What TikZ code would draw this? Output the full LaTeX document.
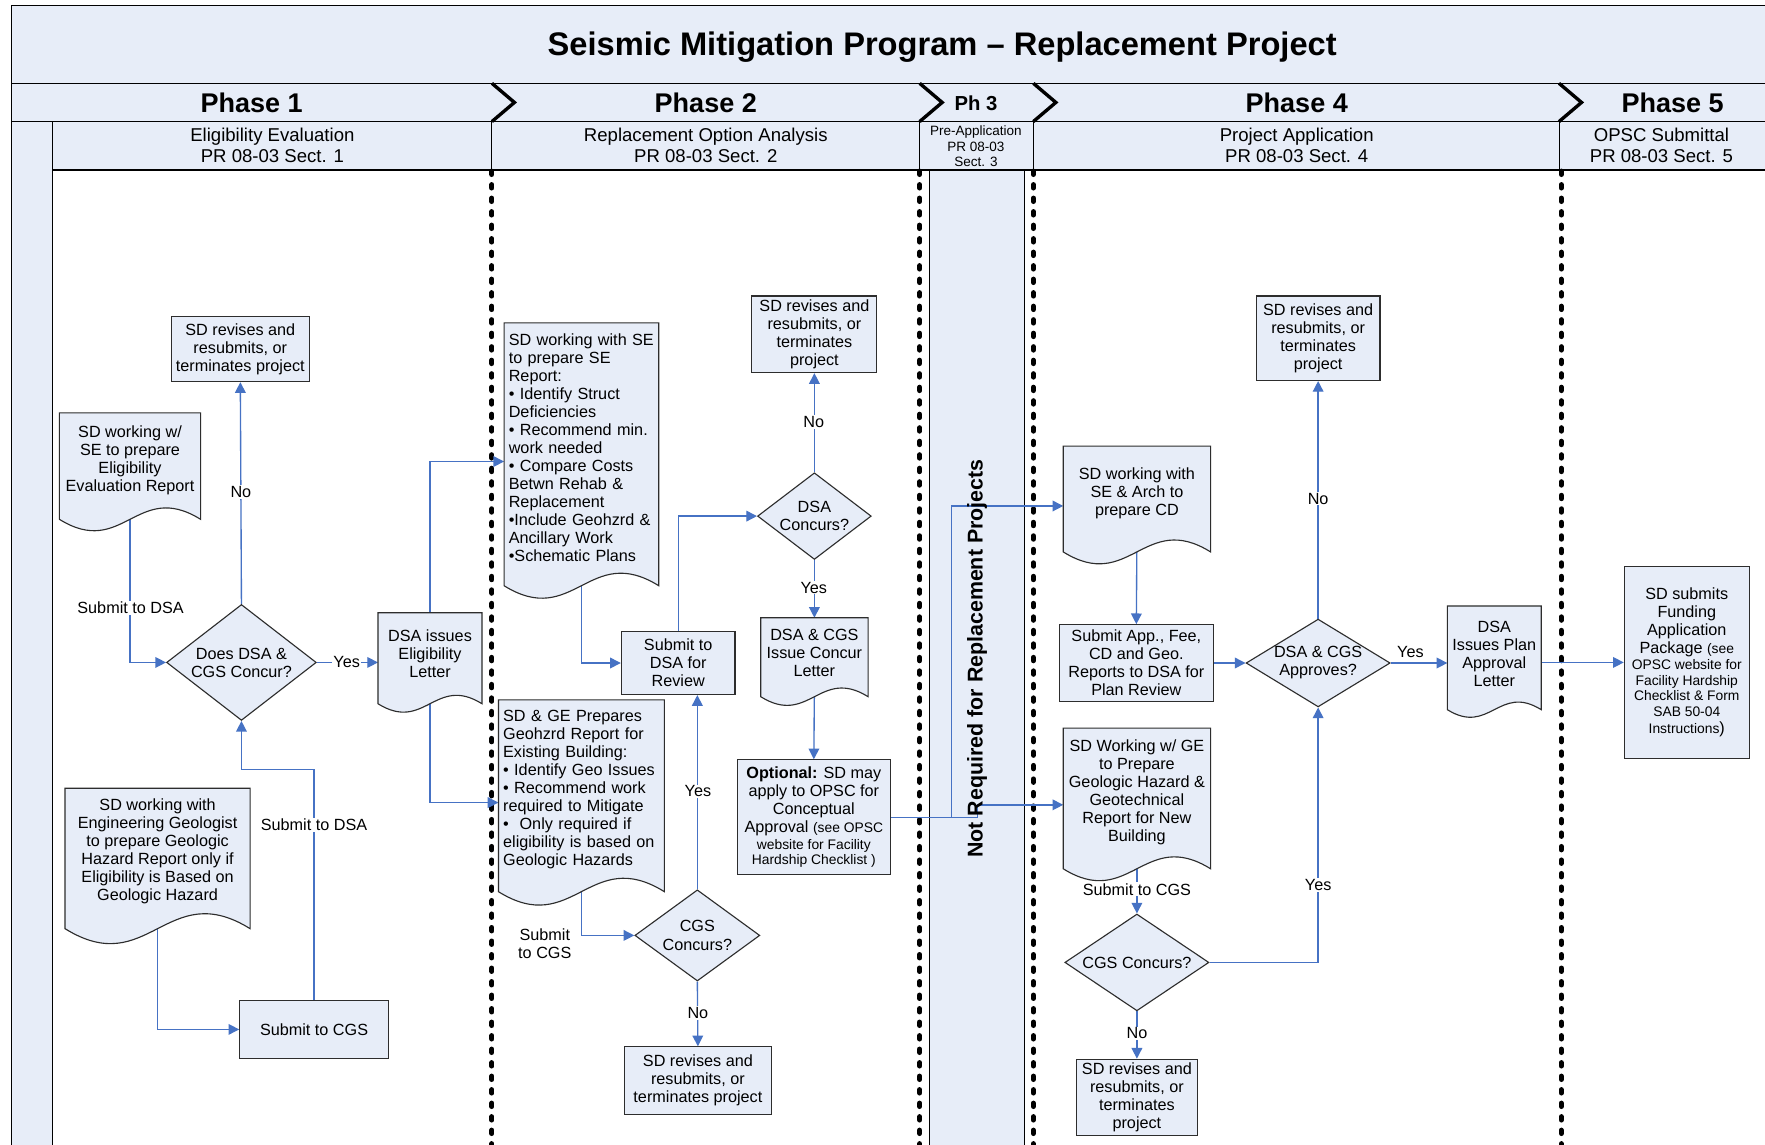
\documentclass[tikz,border=0pt]{standalone}
\usepackage{fontspec}
\setmainfont{Liberation Sans}
\usetikzlibrary{shapes.geometric,arrows.meta,calc}
\definecolor{boxfill}{RGB}{231,237,248}
\definecolor{boxline}{RGB}{45,45,45}
\definecolor{cblue}{RGB}{70,114,196}
\pgfdeclarelayer{bg}
\pgfdeclarelayer{conn}
\pgfdeclarelayer{docs}
\pgfsetlayers{bg,conn,docs,main}
\newcommand\bx{\fontsize{14.4}{16}\selectfont}
\newcommand\smf{\fontsize{12.3}{14}\selectfont}
\newcommand\wavedoc[1]{%
 \begin{pgfonlayer}{docs}
 \path[docshape] let \p1=(#1.south west), \p2=(#1.north east), \n1={\x2-\x1} in
 (\x1,\y2) -- (\x2,\y2) -- (\x2,{\y1-0.081*\n1})
 .. controls ({\x2-0.45*\n1},{\y1-0.081*\n1+0.28*\n1}) and ({\x1+0.45*\n1},{\y1-0.081*\n1-0.28*\n1}) ..
 (\x1,{\y1-0.081*\n1}) -- cycle;
 \end{pgfonlayer}}
\begin{document}
\begin{tikzpicture}[x=1pt,y=-1pt,
 box/.style={rectangle, draw=boxline, line width=1pt, fill=boxfill, font=\bx, align=center, inner sep=2pt},
 dia/.style={diamond, draw=boxline, line width=1pt, fill=boxfill, font=\bx, align=center, inner sep=0pt},
 docnode/.style={rectangle, font=\bx, align=center, inner xsep=4pt, inner ysep=0pt},
 docshape/.style={fill=boxfill, draw=boxline, line width=1pt},
 link/.style={draw=cblue, line width=1.2pt, -{Triangle[length=9.5pt,width=9.5pt]}},
 lab/.style={font=\bx, fill=white, inner sep=1pt},
 freelab/.style={font=\bx, inner sep=1pt, align=center},
 dotline/.style={line width=4.5pt, dash pattern=on 3pt off 9pt, line cap=round},
 chev/.style={line width=3pt, line join=miter},
 hdrframe/.style={draw=black, line width=1.2pt, fill=boxfill},
 hdr/.style={font=\fontsize{29}{34}\selectfont\bfseries},
 phase/.style={font=\fontsize{24}{28}\selectfont\bfseries},
 phsmall/.style={font=\fontsize{18}{21}\selectfont\bfseries},
 subh/.style={font=\fontsize{16.5}{19}\selectfont, align=center},
 subsmall/.style={font=\fontsize{12}{13.5}\selectfont, align=center}]
\useasboundingbox (0,0) rectangle (1568,1017);
\begin{pgfonlayer}{bg}
 \fill[white] (0,0) rectangle (1568,1017);
 \path[hdrframe] (10,5) rectangle (1600,74);
 \path[hdrframe] (10,74) rectangle (1600,108);
 \path[hdrframe, line width=1pt] (47,108) rectangle (1600,151);
 \path[hdrframe, line width=1pt] (10,108) rectangle (47,1040);
 \foreach \xx in {437,817,918,1385} {\draw[line width=0.8pt] (\xx,108) -- (\xx,151);}
 \path[hdrframe, line width=1pt] (826,151) rectangle (910,1040);
 \foreach \xx in {437,817,918,1387} {\draw[dotline] (\xx,152) -- (\xx,1030);}
 \foreach \xx in {437,817,918,1385} {\draw[chev] (\xx,74) -- (\xx+20,91) -- (\xx,108);}
\end{pgfonlayer}

% headers
\node[hdr] (title) at (837,41.5) {Seismic Mitigation Program – Replacement Project};
\node[phase] (ph1) at (223.5,91.5) {Phase 1};
\node[phase] (ph2) at (627,91.5) {Phase 2};
\node[phsmall] (ph3) at (867,91.5) {Ph 3};
\node[phase] (ph4) at (1152,91.5) {Phase 4};
\node[phase] (ph5) at (1486,91.5) {Phase 5};
\node[subh] (s1) at (242,129) {Eligibility Evaluation\\PR 08-03 Sect. 1};
\node[subh] (s2) at (627,129) {Replacement Option Analysis\\PR 08-03 Sect. 2};
\node[subsmall] (s3) at (867,130) {Pre-Application\\PR 08-03\\Sect. 3};
\node[subh] (s4) at (1152,129) {Project Application\\PR 08-03 Sect. 4};
\node[subh] (s5) at (1476,129) {OPSC Submittal\\PR 08-03 Sect. 5};
\node[font=\fontsize{19}{22}\selectfont\bfseries, rotate=90] (nr) at (868,585) {Not Required for Replacement Projects};

% Phase 1
\node[box, minimum width=123pt, minimum height=58pt] (p1rev) at (213.5,310) {SD revises and\\resubmits, or\\terminates project};
\node[docnode, minimum width=125pt, minimum height=84pt] (p1doc) at (115.5,409) {SD working w/\\SE to prepare\\Eligibility\\Evaluation Report};
\node[dia, aspect=1.29, minimum width=133pt, minimum height=103pt] (p1dia) at (214.5,588.5) {Does DSA \&\\CGS Concur?};
\node[docnode, minimum width=92pt, minimum height=73pt] (p1let) at (382,581) {DSA issues\\Eligibility\\Letter};
\node[docnode, minimum width=164pt, minimum height=111pt] (p1geo) at (140,756) {SD working with\\Engineering Geologist\\to prepare Geologic\\Hazard Report only if\\Eligibility is Based on\\Geologic Hazard};
\node[box, minimum width=132pt, minimum height=51pt] (p1cgs) at (279,914.5) {Submit to CGS};

% Phase 2
\node[docnode, align=left, text width=129pt, minimum height=222pt] (p2se) at (516.5,398) {SD working with SE\\to prepare SE\\Report:\\• Identify Struct\\Deficiencies\\• Recommend min.\\work needed\\• Compare Costs\\Betwn Rehab \&\\Replacement\\•Include Geohzrd \&\\Ancillary Work\\•Schematic Plans};
\node[box, minimum width=101pt, minimum height=56pt] (p2submit) at (602.5,589) {Submit to\\DSA for\\Review};
\node[docnode, align=left, text width=139pt, minimum height=158pt] (p2geo) at (516.5,701) {SD \& GE Prepares\\Geohzrd Report for\\Existing Building:\\• Identify Geo Issues\\• Recommend work\\required to Mitigate\\•\ \ Only required if\\eligibility is based on\\Geologic Hazards};
\node[dia, aspect=1.37, minimum width=111pt, minimum height=81pt] (p2cgs) at (619.5,831) {CGS\\Concurs?};
\node[box, minimum width=130pt, minimum height=60pt] (p2rev3) at (620,960) {SD revises and\\resubmits, or\\terminates project};
\node[dia, aspect=1.31, minimum width=101pt, minimum height=77pt] (p2dsa) at (723.5,458.5) {DSA\\Concurs?};
\node[box, minimum width=111pt, minimum height=68pt] (p2rev2) at (723.5,297) {SD revises and\\resubmits, or\\terminates\\project};
\node[docnode, minimum width=95pt, minimum height=62pt] (p2let) at (723.5,580) {DSA \& CGS\\Issue Concur\\Letter};
\node[box, minimum width=136pt, minimum height=102pt] (p2opt) at (723,726) {\textbf{Optional:} SD may\\apply to OPSC for\\Conceptual\\Approval {\smf(see OPSC}\\[-1pt]{\smf website for Facility}\\[-2pt]{\smf Hardship Checklist )}};

% Phase 4
\node[docnode, minimum width=130.5pt, minimum height=83pt] (p4cd) at (1010,438) {SD working with\\SE \& Arch to\\prepare CD};
\node[box, minimum width=137pt, minimum height=68pt] (p4sub) at (1009.5,589) {Submit App., Fee,\\CD and Geo.\\Reports to DSA for\\Plan Review};
\node[dia, aspect=1.64, minimum width=128pt, minimum height=78pt] (p4dia) at (1171,589) {DSA \& CGS\\Approves?};
\node[box, minimum width=110pt, minimum height=75pt] (p4rev1) at (1171,300.5) {SD revises and\\resubmits, or\\terminates\\project};
\node[docnode, minimum width=83pt, minimum height=85pt] (p4let) at (1327.5,581) {DSA\\Issues Plan\\Approval\\Letter};
\node[docnode, minimum width=130.5pt, minimum height=114pt] (p4geo) at (1010,704) {SD Working w/ GE\\to Prepare\\Geologic Hazard \&\\Geotechnical\\Report for New\\Building};
\node[dia, aspect=1.49, minimum width=128pt, minimum height=86pt] (p4cgs) at (1010,855) {CGS Concurs?};
\node[box, minimum width=108pt, minimum height=68pt] (p4rev2) at (1010,975) {SD revises and\\resubmits, or\\terminates\\project};

% Phase 5
\node[box, minimum width=111pt, minimum height=171pt] (p5) at (1498.5,588.5) {SD submits\\Funding\\Application\\Package {\smf(see}\\[-2pt]{\smf OPSC website for}\\[-2pt]{\smf Facility Hardship}\\[-2pt]{\smf Checklist \& Form}\\[-2pt]{\smf SAB 50-04}\\[-1pt]{\smf Instructions})};

% document shapes
\wavedoc{p1doc}
\wavedoc{p1let}
\wavedoc{p1geo}
\wavedoc{p2se}
\wavedoc{p2geo}
\wavedoc{p2let}
\wavedoc{p4cd}
\wavedoc{p4let}
\wavedoc{p4geo}

% connectors
\begin{pgfonlayer}{conn}
 \draw[link] (p1doc.south) |- (p1dia.west);
 \draw[link] (p1dia.north) -- (p1rev.south);
 \draw[link] (p1dia.east) -- (p1dia.east -| p1let.west);
 \draw[link] (p1geo.south) |- (p1cgs.west);
 \draw[link] (p1cgs.north) -- ++(0,-205) -| (p1dia.south);
 \draw[link] (p1let.north) |- ([yshift=-12pt]p2se.west);
 \draw[link] (p1let.south) |- ([yshift=-12pt]p2geo.west);
 \draw[link] (p2se.south) |- (p2submit.west);
 \draw[link] (p2geo.south) |- (p2cgs.west);
 \draw[link] (p2cgs.north) -- (p2cgs.north |- p2submit.south);
 \draw[link] (p2cgs.south) -- (p2rev3.north);
 \draw[link] (p2submit.north) |- (p2dsa.west);
 \draw[link] (p2dsa.north) -- (p2rev2.south);
 \draw[link] (p2dsa.south) -- (p2let.north);
 \draw[link] (p2let.south) -- (p2opt.north);
 \draw[link] (p2opt.east) -- ++(54,0) |- ([yshift=-11.5pt]p4cd.west);
 \draw[link] (p2opt.east) -- ++(77,0) |- ([yshift=-11pt]p4geo.west);
 \draw[link] (p4cd.south) -- (p4sub.north);
 \draw[link] (p4sub.east) -- (p4dia.west);
 \draw[link] (p4dia.north) -- (p4rev1.south);
 \draw[link] (p4dia.east) -- (p4dia.east -| p4let.west);
 \draw[link] (p4let.east |- p5.west) -- (p5.west);
 \draw[link] (p4geo.south) -- (p4cgs.north);
 \draw[link] (p4cgs.east) -| (p4dia.south);
 \draw[link] (p4cgs.south) -- (p4rev2.north);
\end{pgfonlayer}

% labels
\node[lab] (l1) at (116,540) {Submit to DSA};
\node[lab] (l2) at (214,437) {No};
\node[lab] (l3) at (308,588) {Yes};
\node[lab] (l4) at (279,733) {Submit to DSA};
\node[freelab] (l5) at (484,838) {Submit\\to CGS};
\node[lab] (l6) at (620,703) {Yes};
\node[lab] (l7) at (620,900) {No};
\node[lab] (l8) at (723,375) {No};
\node[lab] (l9) at (723,522) {Yes};
\node[lab] (l10) at (1171,443) {No};
\node[freelab] (l11) at (1253,579) {Yes};
\node[lab] (l12) at (1010,790) {Submit to CGS};
\node[lab] (l13) at (1171,786) {Yes};
\node[lab] (l14) at (1010,918) {No};
\end{tikzpicture}
\end{document}
